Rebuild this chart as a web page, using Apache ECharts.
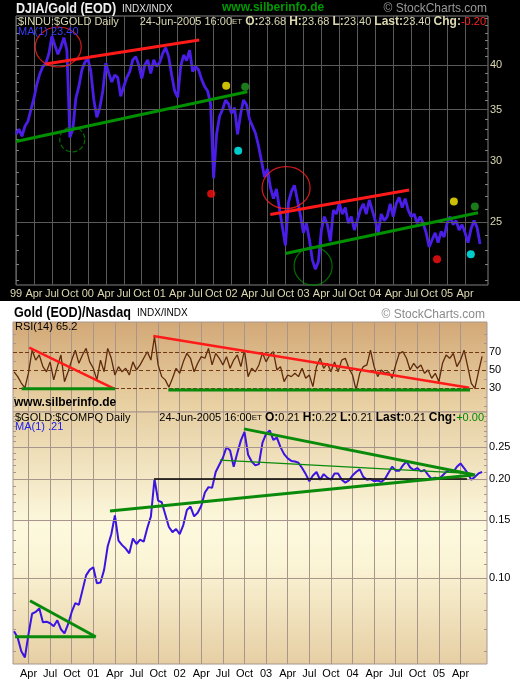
<!DOCTYPE html>
<html><head><meta charset="utf-8">
<script src="https://cdn.jsdelivr.net/npm/echarts@6/dist/echarts.min.js"></script>
<style>html,body{margin:0;padding:0;background:#fff}#c{width:520px;height:685px;background:linear-gradient(#000 0,#000 301px,#fff 301px,#fff 100%)}</style>
</head><body><div id="c"></div><script>
// ---------- DATA ----------
// DJIA / Gold ratio, half-monthly samples starting Jan 1999
const djiaGoldStart = 1999;
const djiaGoldStep = 1 / 24;
const djiaGold = [32.5,33.0,32.3,33.3,33.8,35.0,36.2,37.8,39.0,39.8,40.2,41.4,43.6,42.4,41.3,42.2,43.4,41.8,32.2,33.0,
36.2,37.5,39.4,40.3,40.8,39.2,36.0,34.2,35.2,37.0,40.2,39.0,38.0,38.8,38.5,36.4,37.5,38.5,39.2,40.6,
41.0,40.0,38.4,40.0,40.6,39.0,40.6,39.8,40.3,41.4,42.1,41.0,38.8,37.0,36.3,39.8,41.2,40.5,41.8,39.2,
39.8,39.4,38.3,37.5,37.0,35.6,28.5,32.5,34.3,35.0,36.0,35.6,34.6,35.2,32.5,34.5,36.0,35.5,34.0,33.3,
32.6,31.4,30.0,28.6,29.3,27.7,26.8,27.6,26.0,24.6,23.3,26.5,27.4,27.9,26.7,25.5,24.2,24.9,23.7,22.3,
21.7,22.2,24.4,25.4,24.8,23.6,25.9,25.6,26.4,25.6,26.1,24.9,25.4,24.4,25.1,25.9,26.4,25.6,26.7,25.9,
25.1,24.2,25.6,25.1,25.4,26.4,25.4,26.4,26.9,26.1,26.8,25.9,25.4,25.6,24.9,25.4,24.9,24.2,23.2,23.7,
24.2,23.5,24.3,23.9,24.9,25.4,24.8,25.1,24.4,24.8,24.2,23.5,24.5,25.1,24.6,23.4];

// Gold / Nasdaq ratio and its RSI(14), half-monthly samples starting Feb 2000
const goldStart = 2000 + 1 / 12;
const goldStep = 1 / 24;
const goldNasdaq = [.069,.066,.060,.0575,.0676,.078,.079,.081,.0735,.0738,
.073,.0715,.0745,.070,.068,.0725,.079,.084,.083,.092,
.102,.106,.108,.0965,.097,.106,.125,.136,.155,.130,
.126,.123,.119,.132,.127,.131,.129,.142,.154,.200,
.172,.170,.156,.143,.138,.141,.136,.145,.161,.165,
.154,.158,.166,.182,.189,.188,.210,.221,.232,.250,
.244,.218,.240,.262,.278,.237,.226,.220,.222,.258,
.274,.281,.263,.267,.250,.238,.231,.227,.226,.224,
.216,.207,.197,.205,.210,.199,.207,.202,.199,.208,
.208,.199,.195,.198,.205,.210,.214,.203,.199,.200,
.197,.198,.196,.200,.209,.218,.212,.212,.220,.226,
.217,.213,.216,.211,.213,.206,.200,.202,.200,.205,
.210,.213,.210,.218,.223,.216,.208,.199,.203,.208,.210];
const rsi14 = [48,42.6,35.5,30,46.7,72,61,66.7,53.7,48,
59,39,53.7,66.7,37,48,61,72,57.4,66.7,
74,59,51.9,39,61,48,74,63,44.4,53.7,
48,51.9,44.4,59,50,55.6,63,70.3,61,87,
55.6,42.6,39,30.8,40.8,51.9,46.3,59,68.5,63,
48,57.4,64.8,63,74,55.6,68.5,63,55.6,64.8,
51.9,61,66.7,53.7,72,42.6,51.9,48,55.6,
68.9,59,66.7,70.3,50,53.7,37,44.4,42.6,46.3,
42.6,51.9,40.8,44.4,31.5,53.7,63,51.9,57.4,48,
59,48,61,63,51.9,44.4,27.8,46.3,53.7,55.6,
72,53.7,42.6,50,46.3,48,40.8,55.6,68.5,70.3,
63,50,57.4,51.9,55.6,46.3,50,40.8,46.3,37,
57.4,66.7,63,68.5,53.7,61,72,53.7,35.2,29.6,
48,65.2];

// tick labels
const topYTicks = [25, 30, 35, 40];
const topYMinor = [21,22,23,24,26,27,28,29,31,32,33,34,36,37,38,39,41,42,43,44,45,46];
const rsiTicks = [30, 50, 70];
const rsiMinor = [10, 20, 40, 60, 80, 90];
const priceYTicks = [0.10, 0.15, 0.20, 0.25];
const priceYMinor = [0.06,0.07,0.08,0.09,0.11,0.12,0.13,0.14,0.16,0.17,0.18,0.19,0.21,0.22,0.23,0.24,0.26,0.27,0.28,0.29,0.30,0.31];
const topQuarterTicks = [1999,1999.25,1999.5,1999.75,2000,2000.25,2000.5,2000.75,2001,2001.25,2001.5,2001.75,
  2002,2002.25,2002.5,2002.75,2003,2003.25,2003.5,2003.75,2004,2004.25,2004.5,2004.75,2005,2005.25];
const bottomQuarterTicks = [2000.25,2000.5,2000.75,2001,2001.25,2001.5,2001.75,2002,2002.25,2002.5,2002.75,2003,
  2003.25,2003.5,2003.75,2004,2004.25,2004.5,2004.75,2005,2005.25];
const monthNames = ['', 'Apr', 'Jul', 'Oct'];

// annotations (data units: [year, value])
const topRedLines = [[[1999.41, 40.1], [2001.55, 43.1]], [[2002.54, 25.56], [2004.47, 27.5]]];
const topGreenLines = [[[1999.0, 31.8], [2002.22, 36.9]], [[2002.75, 22.75], [2005.43, 25.7]]];
const topCircles = [
  {c: [1999.588, 42.2], size: [46, 40], color: '#ff2020', dash: 'solid'},
  {c: [1999.783, 32.0], size: [25, 25], color: '#008800', dash: 'dashed'},
  {c: [2002.759, 27.7], size: [48, 42], color: '#ff2020', dash: 'solid'},
  {c: [2003.135, 21.9], size: [38, 38], color: '#008800', dash: 'solid'}
];
const topDots = [
  {p: [2001.925, 37.57], color: '#ffee00'}, {p: [2002.189, 37.46], color: '#1f9a1f'},
  {p: [2002.092, 30.94], color: '#00ffff'}, {p: [2001.716, 27.2], color: '#ff1010'},
  {p: [2005.094, 26.57], color: '#ffee00'}, {p: [2005.386, 26.18], color: '#1f9a1f'},
  {p: [2004.86, 22.35], color: '#ff1010'}, {p: [2005.33, 22.7], color: '#00ffff'}
];
const rsiRedLines = [[[2000.259, 74.8], [2001.251, 28.6]], [[2001.694, 87.8], [2005.352, 30.3]]];
const rsiGreenLines = [[[2000.171, 29.2], [2001.251, 29.2]], [[2001.868, 27.8], [2005.36, 27.8]]];
const priceThickGreen = [
  [[2001.193, 0.160], [2005.395, 0.2057]],
  [[2002.744, 0.284], [2005.418, 0.2057]],
  [[2000.267, 0.0854], [2001.028, 0.0664]],
  [[2000.094, 0.0664], [2001.028, 0.0664]]
];
const priceThinGreen = [[[2002.466, 0.2284], [2005.395, 0.2078]]];
const priceBlack = [[[2001.703, 0.200], [2005.325, 0.200]]];

// ---------- CHART ----------
const FONT = '"Liberation Sans", Arial, sans-serif';
function qLabel(v) {
  const y = Math.floor(v + 1e-6);
  const q = (v - y) * 4;
  const f = Math.round(q);
  if (Math.abs(q - f) > 0.01 || f > 3) return '';
  return f === 0 ? String(y % 100).padStart(2, '0') : monthNames[f];
}
const series = [];
function seg(pts, color, width, xi, yi, type) {
  series.push({type: 'line', xAxisIndex: xi, yAxisIndex: yi, data: pts, showSymbol: false, symbol: 'none',
    lineStyle: {color: color, width: width, type: type || 'solid'}, silent: true, z: 5, clip: true});
}
function gridLines(xi, yi, anchor, vals, color) {
  series.push({type: 'line', xAxisIndex: xi, yAxisIndex: yi, data: [anchor], showSymbol: false, symbol: 'none',
    silent: true, z: 1, lineStyle: {width: 0},
    markLine: {symbol: 'none', silent: true, label: {show: false}, animation: false,
      lineStyle: {color: color, width: 1, type: 'solid'}, data: vals.map(v => ({yAxis: v}))}});
}
// y-axis indices: 0 top price, 1/2 top minor; 3 rsi, 4/5 rsi minor; 6 price, 7/8 price minor
gridLines(0, 0, [1999, 30], topYTicks, '#5a5a5a');
gridLines(2, 6, [2001, 0.2], priceYTicks, '#a8958c');
series.push({type: 'line', xAxisIndex: 0, yAxisIndex: 0, showSymbol: false, symbol: 'none', z: 3,
  data: djiaGold.map((v, i) => [djiaGoldStart + i * djiaGoldStep, v]),
  lineStyle: {color: '#4a1ee8', width: 2.8}});
topRedLines.forEach(s => seg(s, '#ff1a1a', 3, 0, 0));
topGreenLines.forEach(s => seg(s, '#009000', 3, 0, 0));
topCircles.forEach(c => series.push({type: 'scatter', xAxisIndex: 0, yAxisIndex: 0, data: [c.c], symbol: 'circle',
  symbolSize: c.size, z: 6, silent: true,
  itemStyle: {color: 'rgba(0,0,0,0)', borderColor: c.color, borderWidth: 1.2, borderType: c.dash}}));
series.push({type: 'scatter', xAxisIndex: 0, yAxisIndex: 0, symbolSize: 8, z: 7, silent: true,
  data: topDots.map(d => ({value: d.p, itemStyle: {color: d.color}}))});
series.push({type: 'line', xAxisIndex: 1, yAxisIndex: 3, showSymbol: false, symbol: 'none', z: 3,
  data: rsi14.map((v, i) => [goldStart + i * goldStep, v]),
  lineStyle: {color: '#5e2a0c', width: 1.3},
  markLine: {symbol: 'none', silent: true, label: {show: false}, animation: false,
    lineStyle: {color: '#6e3a18', width: 1},
    data: [{yAxis: 70}, {yAxis: 50, lineStyle: {type: [4, 3]}}, {yAxis: 30}]}});
rsiRedLines.forEach(s => seg(s, '#ff1a1a', 2.5, 1, 3));
rsiGreenLines.forEach(s => seg(s, '#0a8a0a', 3, 1, 3));
series.push({type: 'line', xAxisIndex: 2, yAxisIndex: 6, showSymbol: false, symbol: 'none', z: 3,
  data: goldNasdaq.map((v, i) => [goldStart + i * goldStep, v]),
  lineStyle: {color: '#3a14e0', width: 2}});
priceBlack.forEach(s => seg(s, '#000', 1.5, 2, 6));
priceThickGreen.forEach(s => seg(s, '#0a8a0a', 3, 2, 6));
priceThinGreen.forEach(s => seg(s, '#0a8a0a', 1.2, 2, 6));

const gridLineTop = {show: true, lineStyle: {color: '#5a5a5a', width: 1}};
const gridLineBot = {show: true, lineStyle: {color: '#a8958c', width: 1}};
function minorAxis(grid, pos, min, max, vals, col, type) {
  return {gridIndex: grid, type: type, position: pos, min: min, max: max, logBase: 10,
    axisLine: {show: false}, splitLine: {show: false}, axisLabel: {show: false},
    axisTick: {show: true, inside: true, length: 3, lineStyle: {color: col}, customValues: vals}};
}

const option = {
  animation: false,
  textStyle: {fontFamily: FONT},
  grid: [
    {left: 16, top: 16, width: 472, height: 269, show: true, backgroundColor: '#000', borderColor: '#808080', borderWidth: 1},
    {left: 13, top: 322, width: 474, height: 90, show: true, borderColor: '#a8958c', borderWidth: 1,
      backgroundColor: {type: 'linear', x: 0, y: 0, x2: 0, y2: 1,
        colorStops: [{offset: 0, color: '#d3a877'}, {offset: 1, color: '#ead4a7'}]}},
    {left: 13, top: 412, width: 474, height: 252, show: true, borderColor: '#a8958c', borderWidth: 1,
      backgroundColor: {type: 'linear', x: 0, y: 0, x2: 0, y2: 1,
        colorStops: [{offset: 0, color: '#e6cfa3'}, {offset: 0.45, color: '#fdf9de'}, {offset: 0.6, color: '#fbf5d6'}, {offset: 1, color: '#e6cea3'}]}}
  ],
  xAxis: [
    {gridIndex: 0, type: 'value', min: 1999, max: 2005.569,
      axisLine: {show: false}, axisTick: {show: false, customValues: topQuarterTicks}, splitLine: gridLineTop,
      axisLabel: {color: '#dcd8b0', fontSize: 11, margin: 3, formatter: qLabel, customValues: topQuarterTicks, fontFamily: FONT}},
    {gridIndex: 1, type: 'value', min: 2000.0706, max: 2005.5567,
      axisLine: {show: false}, axisTick: {show: false, customValues: bottomQuarterTicks}, splitLine: gridLineBot,
      axisLabel: {show: false, customValues: bottomQuarterTicks}},
    {gridIndex: 2, type: 'value', min: 2000.0706, max: 2005.5567,
      axisLine: {show: false}, axisTick: {show: false, customValues: bottomQuarterTicks}, splitLine: gridLineBot,
      axisLabel: {color: '#000', fontSize: 11, margin: 4, formatter: qLabel, customValues: bottomQuarterTicks, fontFamily: FONT}}
  ],
  yAxis: [
    {gridIndex: 0, type: 'log', logBase: 10, min: 20.7, max: 46.3, position: 'right',
      axisLine: {show: false}, axisTick: {show: false, customValues: topYTicks}, splitLine: {show: false},
      axisLabel: {color: '#dcd8b0', fontSize: 11, margin: 2, customValues: topYTicks, formatter: v => String(Math.round(v))}},
    minorAxis(0, 'left', 20.7, 46.3, topYMinor, '#808080', 'log'),
    minorAxis(0, 'right', 20.7, 46.3, topYMinor, '#808080', 'log'),
    {gridIndex: 1, type: 'value', min: 3.3, max: 103.3, position: 'right',
      axisLine: {show: false}, axisTick: {show: false, customValues: rsiTicks}, splitLine: {show: false},
      axisLabel: {color: '#000', fontSize: 11, margin: 2, customValues: rsiTicks}},
    minorAxis(1, 'left', 3.3, 103.3, rsiMinor, '#a8958c', 'value'),
    minorAxis(1, 'right', 3.3, 103.3, rsiMinor, '#a8958c', 'value'),
    {gridIndex: 2, type: 'log', logBase: 10, min: 0.0549, max: 0.3195, position: 'right',
      axisLine: {show: false}, axisTick: {show: false, customValues: priceYTicks}, splitLine: {show: false},
      axisLabel: {color: '#000', fontSize: 11, margin: 2, customValues: priceYTicks, formatter: v => v.toFixed(2)}},
    minorAxis(2, 'left', 0.0549, 0.3195, priceYMinor, '#a8958c', 'log'),
    minorAxis(2, 'right', 0.0549, 0.3195, priceYMinor, '#a8958c', 'log')
  ],
  series: series,
  graphic: [
    {type: 'text', x: 16, y: 9, scaleX: 0.9, z: 100, style: {text: 'DJIA/Gold (EOD)', fill: '#f0f0f0', font: 'bold 14px Arial, "Liberation Sans"', verticalAlign: 'middle'}},
    {type: 'text', x: 122, y: 9, z: 100, style: {text: 'INDX/INDX', fill: '#e0e0e0', font: '10px ' + FONT, verticalAlign: 'middle'}},
    {type: 'text', x: 222, y: 8, z: 100, style: {text: 'www.silberinfo.de', fill: '#009a00', font: 'bold 12px ' + FONT, verticalAlign: 'middle'}},
    {type: 'text', x: 487, y: 9, z: 100, style: {text: '© StockCharts.com', fill: '#9a9a9a', font: '12px ' + FONT, align: 'right', verticalAlign: 'middle'}},
    {type: 'text', x: 18, y: 22, z: 100, style: {text: '$INDU:$GOLD Daily', fill: '#dcd8b0', font: '11px ' + FONT, verticalAlign: 'middle'}},
    {type: 'text', x: 486, y: 22, z: 100, style: {
      text: '24-Jun-2005 16:00{s|ET} {b|O:}23.68 {b|H:}23.68 {b|L:}23.40 {b|Last:}23.40 {b|Chg:}{r|-0.20}',
      fill: '#dcd8b0', font: '11px ' + FONT, align: 'right', verticalAlign: 'middle',
      rich: {s: {fontSize: 8, fill: '#dcd8b0'}, b: {fontWeight: 'bold', fill: '#dcd8b0'}, r: {fill: '#ff2020'}}}},
    {type: 'text', x: 18, y: 32, z: 100, style: {text: 'MA(1) 23.40', fill: '#3a3aff', font: '11px ' + FONT, verticalAlign: 'middle'}},
    {type: 'text', x: 14, y: 313, scaleX: 0.9, z: 100, style: {text: 'Gold (EOD)/Nasdaq', fill: '#000', font: 'bold 14px Arial, "Liberation Sans"', verticalAlign: 'middle'}},
    {type: 'text', x: 137, y: 313, z: 100, style: {text: 'INDX/INDX', fill: '#000', font: '10px ' + FONT, verticalAlign: 'middle'}},
    {type: 'text', x: 485, y: 315, z: 100, style: {text: '© StockCharts.com', fill: '#8a8a8a', font: '12px ' + FONT, align: 'right', verticalAlign: 'middle'}},
    {type: 'text', x: 15, y: 327, z: 100, style: {text: 'RSI(14) 65.2', fill: '#000', font: '11px ' + FONT, verticalAlign: 'middle'}},
    {type: 'text', x: 14, y: 403, z: 100, style: {text: 'www.silberinfo.de', fill: '#000', font: 'bold 12px ' + FONT, verticalAlign: 'middle'}},
    {type: 'text', x: 15, y: 418, z: 100, style: {text: '$GOLD:$COMPQ Daily', fill: '#000', font: '11px ' + FONT, verticalAlign: 'middle'}},
    {type: 'text', x: 484, y: 418, z: 100, style: {
      text: '24-Jun-2005 16:00{s|ET} {b|O:}0.21 {b|H:}0.22 {b|L:}0.21 {b|Last:}0.21 {b|Chg:}{g|+0.00}',
      fill: '#000', font: '11px ' + FONT, align: 'right', verticalAlign: 'middle',
      rich: {s: {fontSize: 8, fill: '#000'}, b: {fontWeight: 'bold', fill: '#000'}, g: {fill: '#008a00'}}}},
    {type: 'text', x: 15, y: 427, z: 100, style: {text: 'MA(1) .21', fill: '#2020ee', font: '11px ' + FONT, verticalAlign: 'middle'}}
  ]
};
const chart = echarts.init(document.getElementById('c'), null, {renderer: 'canvas'});
chart.setOption(option);
</script></body></html>
